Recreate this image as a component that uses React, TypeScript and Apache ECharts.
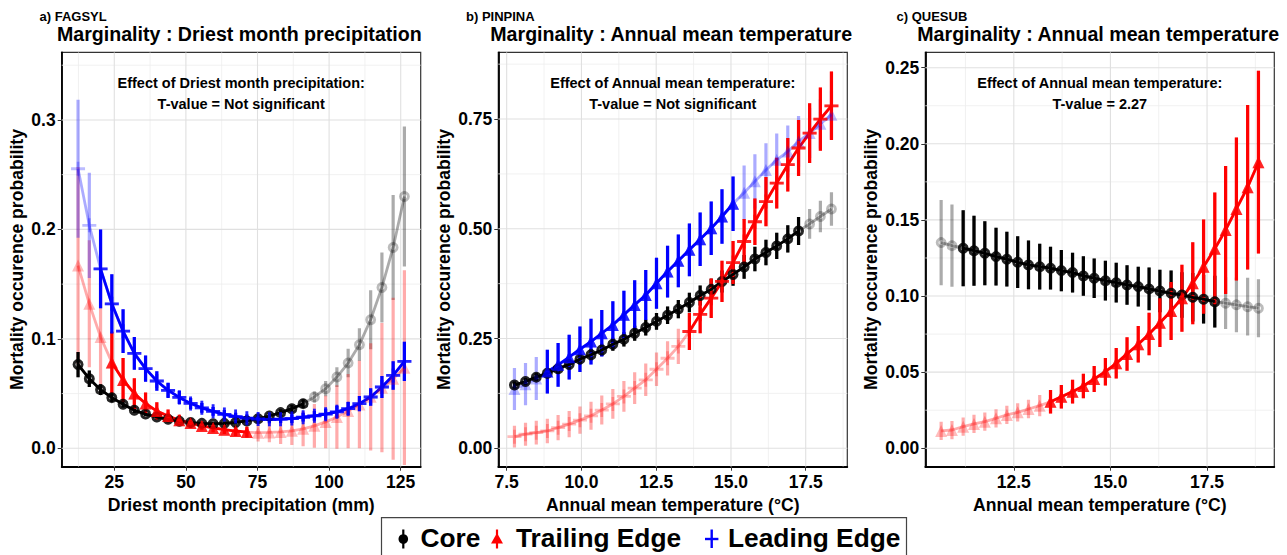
import React, { useEffect, useRef } from "react";
import * as echarts from "echarts";

// ---------------- Panel a) FAGSYL : Driest month precipitation ----------------
const A_X = [12.35, 16.28, 20.21, 24.14, 28.07, 32.0, 35.92, 39.85, 43.78, 47.71, 51.64, 55.57, 59.5, 63.43, 67.36, 71.29, 75.21, 79.14, 83.07, 87.0, 90.93, 94.86, 98.79, 102.72, 106.65, 110.58, 114.51, 118.44, 122.36, 126.29];
const A_CORE = [0.0765, 0.0636, 0.0536, 0.0463, 0.0402, 0.0347, 0.0313, 0.0286, 0.0265, 0.0247, 0.0235, 0.0228, 0.0225, 0.0228, 0.0236, 0.025, 0.027, 0.0295, 0.0326, 0.0362, 0.0408, 0.0469, 0.0545, 0.0651, 0.0779, 0.0947, 0.1175, 0.147, 0.1835, 0.23];
const A_CORE_ERR = [0.0115, 0.0076, 0.005, 0.004, 0.003, 0.0025, 0.002, 0.002, 0.002, 0.002, 0.002, 0.002, 0.002, 0.002, 0.002, 0.002, 0.002, 0.0025, 0.003, 0.0035, 0.004, 0.005, 0.007, 0.009, 0.013, 0.015, 0.027, 0.032, 0.048, 0.064];
const A_TRAIL = [0.167, 0.132, 0.1017, 0.0785, 0.0625, 0.05, 0.041, 0.034, 0.0295, 0.0256, 0.0231, 0.0204, 0.0186, 0.017, 0.0158, 0.0148, 0.0143, 0.0145, 0.015, 0.016, 0.0178, 0.0205, 0.0241, 0.0286, 0.034, 0.04, 0.047, 0.0554, 0.0636, 0.0737];
const A_TRAIL_ERR = [0.09, 0.058, 0.05, 0.028, 0.02, 0.014, 0.01, 0.008, 0.006, 0.005, 0.0045, 0.004, 0.004, 0.004, 0.0045, 0.005, 0.008, 0.009, 0.011, 0.013, 0.016, 0.02, 0.024, 0.029, 0.034, 0.04, 0.049, 0.059, 0.074, 0.089];
const A_LEAD = [0.2554, 0.2037, 0.164, 0.132, 0.107, 0.0868, 0.0728, 0.0615, 0.053, 0.0465, 0.041, 0.037, 0.0338, 0.031, 0.029, 0.0275, 0.0268, 0.0265, 0.0266, 0.0272, 0.0284, 0.0297, 0.0312, 0.0333, 0.0362, 0.0408, 0.0469, 0.056, 0.0666, 0.0794];
const A_LEAD_ERR = [0.063, 0.048, 0.036, 0.027, 0.02, 0.015, 0.012, 0.009, 0.007, 0.006, 0.005, 0.0045, 0.004, 0.004, 0.0035, 0.0035, 0.0035, 0.0035, 0.0035, 0.004, 0.004, 0.0045, 0.005, 0.0055, 0.006, 0.007, 0.008, 0.01, 0.013, 0.018];
const A_SOLID_CORE: [number, number] = [0, 20];
const A_SOLID_TRAIL: [number, number] = [3, 15];
const A_SOLID_LEAD: [number, number] = [2, 29];
const A_XTICKS = [25, 50, 75, 100, 125];
const A_XMINOR = [12.5, 37.5, 62.5, 87.5, 112.5];
const A_YTICKS = [0, 0.1, 0.2, 0.3];
const A_YMINOR = [0.05, 0.15, 0.25, 0.35];

// ---------------- Panel b) PINPINA : Annual mean temperature ----------------
const B_X = [7.76, 8.13, 8.49, 8.86, 9.22, 9.59, 9.95, 10.32, 10.68, 11.05, 11.42, 11.78, 12.15, 12.51, 12.88, 13.24, 13.61, 13.97, 14.34, 14.7, 15.07, 15.44, 15.8, 16.17, 16.53, 16.9, 17.26, 17.63, 17.99, 18.36];
const B_CORE = [0.144, 0.152, 0.162, 0.171, 0.181, 0.191, 0.203, 0.213, 0.224, 0.237, 0.248, 0.262, 0.275, 0.289, 0.303, 0.317, 0.332, 0.348, 0.362, 0.38, 0.396, 0.413, 0.431, 0.446, 0.461, 0.477, 0.495, 0.511, 0.528, 0.545];
const B_CORE_ERR = [0.008, 0.008, 0.009, 0.009, 0.01, 0.011, 0.012, 0.013, 0.014, 0.015, 0.016, 0.017, 0.018, 0.019, 0.02, 0.021, 0.022, 0.023, 0.024, 0.025, 0.026, 0.027, 0.028, 0.029, 0.03, 0.031, 0.032, 0.034, 0.036, 0.038];
const B_TRAIL = [0.0265, 0.032, 0.0356, 0.0394, 0.047, 0.055, 0.064, 0.074, 0.087, 0.101, 0.118, 0.137, 0.156, 0.18, 0.205, 0.232, 0.266, 0.305, 0.342, 0.38, 0.423, 0.471, 0.516, 0.562, 0.604, 0.646, 0.684, 0.718, 0.75, 0.78];
const B_TRAIL_ERR = [0.025, 0.026, 0.027, 0.028, 0.029, 0.03, 0.031, 0.032, 0.033, 0.034, 0.035, 0.036, 0.037, 0.038, 0.039, 0.04, 0.042, 0.043, 0.045, 0.047, 0.049, 0.051, 0.053, 0.056, 0.058, 0.061, 0.064, 0.068, 0.072, 0.078];
const B_LEAD = [0.135, 0.146, 0.159, 0.1746, 0.19, 0.2074, 0.2256, 0.243, 0.262, 0.281, 0.304, 0.3266, 0.349, 0.376, 0.4025, 0.427, 0.452, 0.476, 0.501, 0.528, 0.557, 0.582, 0.608, 0.634, 0.657, 0.676, 0.699, 0.718, 0.739, 0.76];
const B_LEAD_ERR = [0.048, 0.048, 0.049, 0.05, 0.05, 0.051, 0.052, 0.052, 0.053, 0.054, 0.055, 0.056, 0.057, 0.058, 0.059, 0.06, 0.06, 0.061, 0.061, 0.062, 0.062, 0.062, 0.062, 0.061, 0.06, 0.059, 0.058, 0.057, 0.056, 0.055];
const B_SOLID_CORE: [number, number] = [0, 26];
const B_SOLID_TRAIL: [number, number] = [16, 29];
const B_SOLID_LEAD: [number, number] = [3, 20];
const B_XTICKS = [7.5, 10, 12.5, 15, 17.5];
const B_XMINOR = [8.75, 11.25, 13.75, 16.25, 18.75];
const B_YTICKS = [0, 0.25, 0.5, 0.75];
const B_YMINOR = [0.125, 0.375, 0.625, 0.875];

// ---------------- Panel c) QUESUB : Annual mean temperature ----------------
const C_X = [10.62, 10.9, 11.19, 11.47, 11.75, 12.04, 12.32, 12.6, 12.88, 13.17, 13.45, 13.73, 14.02, 14.3, 14.58, 14.87, 15.15, 15.43, 15.72, 16.0, 16.28, 16.57, 16.85, 17.13, 17.41, 17.7, 17.98, 18.26, 18.55, 18.83];
const C_CORE = [0.1351, 0.1331, 0.1314, 0.1298, 0.1281, 0.1259, 0.1242, 0.1222, 0.1204, 0.1193, 0.1183, 0.1167, 0.1154, 0.1132, 0.1117, 0.1101, 0.1088, 0.1073, 0.1062, 0.1047, 0.1033, 0.1018, 0.1007, 0.0992, 0.0979, 0.0963, 0.0953, 0.0942, 0.093, 0.092];
const C_CORE_ERR = [0.028, 0.027, 0.025, 0.023, 0.021, 0.019, 0.018, 0.017, 0.016, 0.015, 0.014, 0.0135, 0.013, 0.013, 0.013, 0.013, 0.013, 0.013, 0.013, 0.014, 0.014, 0.015, 0.015, 0.016, 0.016, 0.017, 0.017, 0.018, 0.019, 0.019];
const C_TRAIL = [0.0114, 0.012, 0.0142, 0.016, 0.0175, 0.0197, 0.0219, 0.0236, 0.0258, 0.028, 0.0306, 0.0339, 0.0372, 0.0409, 0.0455, 0.0503, 0.0558, 0.062, 0.0683, 0.0751, 0.0825, 0.0902, 0.0986, 0.1084, 0.1193, 0.131, 0.1434, 0.1572, 0.1715, 0.1879];
const C_TRAIL_ERR = [0.006, 0.006, 0.006, 0.006, 0.006, 0.006, 0.006, 0.006, 0.006, 0.007, 0.0077, 0.0077, 0.0078, 0.008, 0.0085, 0.009, 0.01, 0.011, 0.012, 0.014, 0.016, 0.019, 0.022, 0.027, 0.031, 0.037, 0.042, 0.047, 0.054, 0.06];
const C_SOLID_CORE: [number, number] = [2, 25];
const C_SOLID_TRAIL: [number, number] = [10, 29];
const C_XTICKS = [12.5, 15, 17.5];
const C_XMINOR = [11.25, 13.75, 16.25, 18.75];
const C_YTICKS = [0, 0.05, 0.1, 0.15, 0.2, 0.25];
const C_YMINOR = [0.025, 0.075, 0.125, 0.175, 0.225];

// ---------------- Texts ----------------
const PANEL_TAGS = ["a) FAGSYL", "b) PINPINA", "c) QUESUB"];
const PANEL_TITLES = [
  "Marginality : Driest month precipitation",
  "Marginality : Annual mean temperature",
  "Marginality : Annual mean temperature",
];
const EFFECT_LINES = [
  ["Effect of Driest month precipitation:", "T-value = Not significant"],
  ["Effect of Annual mean temperature:", "T-value = Not significant"],
  ["Effect of Annual mean temperature:", "T-value = 2.27"],
];
const X_NAMES = ["Driest month precipitation (mm)", "Annual mean temperature (°C)", "Annual mean temperature (°C)"];
const Y_NAME = "Mortality occurence probability";
const LEGEND_LABELS = ["Core", "Trailing Edge", "Leading Edge"];

// ---------------- Styling / layout ----------------
const FONT = "'Liberation Sans', Arial, Helvetica, sans-serif";
const COLORS = { core: "#000000", trail: "#FF0000", lead: "#0000FF" };
const FADED = { core: "rgba(0,0,0,0.33)", trail: "rgba(255,0,0,0.33)", lead: "rgba(0,0,255,0.33)" };
const PLUS = "path://M4,0H6V4H10V6H6V10H4V6H0V4H4Z";

const LAYOUT = [
  { left: 61.7, width: 359, xMin: 6.64, xMax: 131.98, yMin: -0.0168, yMax: 0.3618, xDec: 0, yDec: 1, yNameGap: 35.5, tagX: 39.5, titleX: 57 },
  { left: 498.3, width: 349, xMin: 7.22, xMax: 18.89, yMin: -0.042, yMax: 0.902, xDec: 1, yDec: 2, yNameGap: 45.5, tagX: 466, titleX: 490.3 },
  { left: 925.3, width: 349, xMin: 10.21, xMax: 19.24, yMin: -0.0121, yMax: 0.2601, xDec: 1, yDec: 2, yNameGap: 45.5, tagX: 896.5, titleX: 917.3 },
];
const GRID_TOP = 52.3;
const GRID_H = 414.4;

type Group = {
  xs: number[];
  ys: number[];
  err: number[];
  solid: [number, number];
  kind: "core" | "trail" | "lead";
  symbol: string;
  size: number;
};

const PANEL_GROUPS: Group[][] = [
  [
    { xs: A_X, ys: A_CORE, err: A_CORE_ERR, solid: A_SOLID_CORE, kind: "core", symbol: "circle", size: 8 },
    { xs: A_X, ys: A_TRAIL, err: A_TRAIL_ERR, solid: A_SOLID_TRAIL, kind: "trail", symbol: "triangle", size: 12 },
    { xs: A_X, ys: A_LEAD, err: A_LEAD_ERR, solid: A_SOLID_LEAD, kind: "lead", symbol: PLUS, size: 14 },
  ],
  [
    { xs: B_X, ys: B_CORE, err: B_CORE_ERR, solid: B_SOLID_CORE, kind: "core", symbol: "circle", size: 8 },
    { xs: B_X, ys: B_TRAIL, err: B_TRAIL_ERR, solid: B_SOLID_TRAIL, kind: "trail", symbol: PLUS, size: 14 },
    { xs: B_X, ys: B_LEAD, err: B_LEAD_ERR, solid: B_SOLID_LEAD, kind: "lead", symbol: "triangle", size: 12 },
  ],
  [
    { xs: C_X, ys: C_CORE, err: C_CORE_ERR, solid: C_SOLID_CORE, kind: "core", symbol: "circle", size: 8 },
    { xs: C_X, ys: C_TRAIL, err: C_TRAIL_ERR, solid: C_SOLID_TRAIL, kind: "trail", symbol: "triangle", size: 12 },
  ],
];
const TICKS = [
  { xt: A_XTICKS, xm: A_XMINOR, yt: A_YTICKS, ym: A_YMINOR },
  { xt: B_XTICKS, xm: B_XMINOR, yt: B_YTICKS, ym: B_YMINOR },
  { xt: C_XTICKS, xm: C_XMINOR, yt: C_YTICKS, ym: C_YMINOR },
];

function range(a: number, b: number) {
  const r: number[] = [];
  for (let i = a; i <= b; i++) r.push(i);
  return r;
}

function txt(x: number, y: number, text: string, font: string, align: string, z = 5) {
  return {
    type: "text",
    x,
    y,
    z,
    silent: true,
    style: { text, fill: "#000", font, textAlign: align, textVerticalAlign: "middle", align, verticalAlign: "middle" },
  };
}

function buildOption() {
  const grids: any[] = [];
  const xAxes: any[] = [];
  const yAxes: any[] = [];
  const gridSeries: any[] = [];
  const layers: any[][] = [[], [], [], [], [], []]; // fadedBars, fadedLines, fadedPts, solidBars, solidLines, solidPts
  const graphics: any[] = [];

  LAYOUT.forEach((L, gi) => {
    const T = TICKS[gi];
    grids.push({
      left: L.left,
      top: GRID_TOP,
      width: L.width,
      height: GRID_H,
      show: true,
      borderColor: "#333",
      borderWidth: 1.2,
      backgroundColor: "#fff",
    });
    const labelStyle = { color: "#000", fontFamily: FONT, fontWeight: "bold", fontSize: 17.5 };
    xAxes.push({
      type: "value",
      gridIndex: gi,
      min: L.xMin,
      max: L.xMax,
      splitLine: { show: false },
      axisLine: { show: true, onZero: false, lineStyle: { color: "#000", width: 1.8 } },
      axisTick: { show: true, customValues: T.xt, length: 4, lineStyle: { color: "#333", width: 1 } },
      axisLabel: { ...labelStyle, customValues: T.xt, margin: 6, formatter: (v: number) => v.toFixed(L.xDec) },
      name: X_NAMES[gi],
      nameLocation: "middle",
      nameGap: 26,
      nameTextStyle: { color: "#000", fontFamily: FONT, fontWeight: "bold", fontSize: 17.6 },
    });
    yAxes.push({
      type: "value",
      gridIndex: gi,
      min: L.yMin,
      max: L.yMax,
      splitLine: { show: false },
      axisLine: { show: true, onZero: false, lineStyle: { color: "#000", width: 1.8 } },
      axisTick: { show: true, customValues: T.yt, length: 4, lineStyle: { color: "#333", width: 1 } },
      axisLabel: { ...labelStyle, customValues: T.yt, margin: 6, formatter: (v: number) => v.toFixed(L.yDec) },
      name: Y_NAME,
      nameLocation: "middle",
      nameGap: L.yNameGap,
      nameRotate: 90,
      nameTextStyle: { color: "#000", fontFamily: FONT, fontWeight: "bold", fontSize: 17.6 },
    });

    // panel grid lines (major + minor) drawn through the axis scales
    const gl: number[][] = [];
    T.xm.forEach((v) => gl.push([v, 0, 0]));
    T.ym.forEach((v) => gl.push([v, 1, 0]));
    T.xt.forEach((v) => gl.push([v, 0, 1]));
    T.yt.forEach((v) => gl.push([v, 1, 1]));
    gridSeries.push({
      type: "custom",
      xAxisIndex: gi,
      yAxisIndex: gi,
      silent: true,
      clip: true,
      z: 1,
      data: gl,
      encode: { x: 0, y: 1 },
      renderItem: (params: any, api: any) => {
        const v = api.value(0);
        const dir = api.value(1);
        const major = api.value(2);
        const cs = params.coordSys;
        const stroke = major ? "#e0e0e0" : "#eeeeee";
        const lw = major ? 1.1 : 0.8;
        if (dir === 0) {
          const px = api.coord([v, L.yMin])[0];
          return { type: "line", shape: { x1: px, y1: cs.y, x2: px, y2: cs.y + cs.height }, style: { stroke, lineWidth: lw } };
        }
        const py = api.coord([L.xMin, v])[1];
        return { type: "line", shape: { x1: cs.x, y1: py, x2: cs.x + cs.width, y2: py }, style: { stroke, lineWidth: lw } };
      },
    });

    PANEL_GROUPS[gi].forEach((g) => {
      const make = (idx: number[], color: string, faded: boolean) => {
        const off = faded ? 0 : 3;
        layers[off].push({
          type: "custom",
          xAxisIndex: gi,
          yAxisIndex: gi,
          silent: true,
          clip: true,
          z: 2,
          data: idx.map((i) => [g.xs[i], g.ys[i] - g.err[i], g.ys[i] + g.err[i]]),
          encode: { x: 0, y: [1, 2] },
          renderItem: (_p: any, api: any) => {
            const a = api.coord([api.value(0), api.value(1)]);
            const b = api.coord([api.value(0), api.value(2)]);
            return { type: "line", shape: { x1: a[0], y1: a[1], x2: b[0], y2: b[1] }, style: { stroke: color, lineWidth: 3.2 } };
          },
        });
        layers[off + 1].push({
          type: "line",
          xAxisIndex: gi,
          yAxisIndex: gi,
          silent: true,
          z: 2,
          symbol: "none",
          showSymbol: false,
          data: idx.map((i) => [g.xs[i], g.ys[i]]),
          lineStyle: { color, width: 2.8 },
        });
        const hollow = g.kind === "core";
        layers[off + 2].push({
          type: "scatter",
          xAxisIndex: gi,
          yAxisIndex: gi,
          silent: true,
          z: 2,
          symbol: g.symbol,
          symbolSize: g.size,
          data: idx.map((i) => [g.xs[i], g.ys[i]]),
          itemStyle: hollow
            ? { color: "rgba(0,0,0,0)", borderColor: color, borderWidth: 2.9 }
            : { color },
        });
      };
      make(range(0, g.xs.length - 1), FADED[g.kind], true);
      make(range(g.solid[0], g.solid[1]), COLORS[g.kind], false);
    });

    const cx = L.left + L.width / 2;
    graphics.push(
      txt(L.tagX, 16.5, PANEL_TAGS[gi], `bold 13px ${FONT}`, "left"),
      txt(L.titleX, 33.5, PANEL_TITLES[gi], `bold 19.6px ${FONT}`, "left"),
      txt(cx, 82.7, EFFECT_LINES[gi][0], `bold 14.5px ${FONT}`, "center", 10),
      txt(cx, 104.3, EFFECT_LINES[gi][1], `bold 14.5px ${FONT}`, "center", 10)
    );
  });

  // legend
  const ly = 539;
  const lf = `bold 26.3px ${FONT}`;
  graphics.push(
    { type: "rect", shape: { x: 381.5, y: 517.7, width: 525, height: 45 }, style: { fill: "#fff", stroke: "#444", lineWidth: 1.2 }, silent: true },
    { type: "line", shape: { x1: 403.3, y1: ly - 9.5, x2: 403.3, y2: ly + 9.5 }, style: { stroke: COLORS.core, lineWidth: 2.2 }, silent: true },
    { type: "circle", shape: { cx: 403.3, cy: ly, r: 4.8 }, style: { fill: COLORS.core }, silent: true },
    { type: "line", shape: { x1: 497, y1: ly - 9.5, x2: 497, y2: ly + 9.5 }, style: { stroke: COLORS.trail, lineWidth: 2.2 }, silent: true },
    { type: "polygon", shape: { points: [[491, ly + 4.5], [503, ly + 4.5], [497, ly - 6]] }, style: { fill: COLORS.trail }, silent: true },
    { type: "line", shape: { x1: 711.7, y1: ly - 9.5, x2: 711.7, y2: ly + 9 }, style: { stroke: COLORS.lead, lineWidth: 2.4 }, silent: true },
    { type: "line", shape: { x1: 705, y1: ly, x2: 718.4, y2: ly }, style: { stroke: COLORS.lead, lineWidth: 2.4 }, silent: true },
    txt(420.4, 537.5, LEGEND_LABELS[0], lf, "left"),
    txt(516, 537.5, LEGEND_LABELS[1], lf, "left"),
    txt(728, 537.5, LEGEND_LABELS[2], lf, "left")
  );

  return {
    animation: false,
    backgroundColor: "#fff",
    textStyle: { fontFamily: FONT },
    grid: grids,
    xAxis: xAxes,
    yAxis: yAxes,
    graphic: { elements: graphics },
    series: [...gridSeries, ...layers.flat()],
  };
}

export default function App() {
  const ref = useRef<HTMLDivElement>(null);
  useEffect(() => {
    if (!ref.current) return;
    const chart = echarts.init(ref.current, undefined, { renderer: "svg" });
    chart.setOption(buildOption() as any);
    return () => chart.dispose();
  }, []);
  return (
    <div
      ref={ref}
      style={{ position: "absolute", left: 0, top: 0, width: 1287, height: 555, background: "#fff" }}
    />
  );
}
